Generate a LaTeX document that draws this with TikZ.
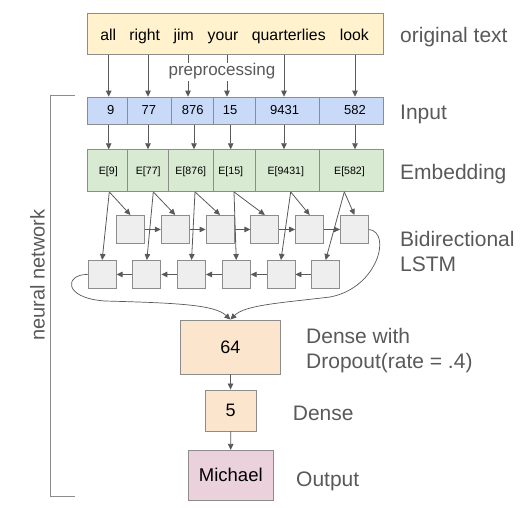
\documentclass[tikz,border=0pt]{standalone}
\usepackage{fontspec}
\setmainfont{Liberation Sans}
\usetikzlibrary{arrows.meta}
\definecolor{linec}{HTML}{595959}
\definecolor{borderc}{HTML}{8C8C8C}
\definecolor{labelc}{HTML}{595959}
\definecolor{topc}{HTML}{FFF2CC}
\definecolor{inpc}{HTML}{C9DAF8}
\definecolor{embc}{HTML}{D9EAD3}
\definecolor{lstmc}{HTML}{EEEEEE}
\definecolor{densec}{HTML}{FCE5CD}
\definecolor{outc}{HTML}{EAD1DC}
\tikzset{
  cellbox/.style={draw=borderc, line width=0.9pt, inner sep=0pt, anchor=north west},
  lstmbox/.style={draw=borderc, fill=lstmc, line width=0.9pt, inner sep=0pt, minimum width=28pt, minimum height=28pt, anchor=north west},
  arr/.style={draw=linec, line width=0.8pt, -{Triangle[length=6pt,width=5.5pt]}},
  sidelbl/.style={text=labelc, inner sep=0pt, anchor=base west, font=\fontsize{21}{25}\selectfont},
  wordlbl/.style={inner sep=0pt, anchor=base, font=\fontsize{15.8}{19}\selectfont},
  numlbl/.style={inner sep=0pt, anchor=base, font=\fontsize{13}{15}\selectfont},
  emblbl/.style={inner sep=0pt, anchor=base, font=\fontsize{10.6}{12}\selectfont},
}
\begin{document}
\begin{tikzpicture}[x=1pt,y=-1pt]
\useasboundingbox (0,0) rectangle (530,508);

% top text box
\node[cellbox, fill=topc, minimum width=296pt, minimum height=41.6pt] (top) at (86.7,12.7) {};
\node[wordlbl] (w1) at (108.2,40.5) {all};
\node[wordlbl] (w2) at (144.7,40.5) {right};
\node[wordlbl] (w3) at (183.7,40.5) {jim};
\node[wordlbl] (w4) at (223,40.5) {your};
\node[wordlbl] (w5) at (288.8,40.5) {quarterlies};
\node[wordlbl] (w6) at (354.3,40.5) {look};

% input cells
\node[cellbox, fill=inpc, minimum width=40pt, minimum height=27.3pt] (in1) at (86.7,96.7) {};
\node[cellbox, fill=inpc, minimum width=44pt, minimum height=27.3pt] (in2) at (126.7,96.7) {};
\node[cellbox, fill=inpc, minimum width=42pt, minimum height=27.3pt] (in3) at (170.7,96.7) {};
\node[cellbox, fill=inpc, minimum width=42.3pt, minimum height=27.3pt] (in4) at (212.7,96.7) {};
\node[cellbox, fill=inpc, minimum width=63.7pt, minimum height=27.3pt] (in5) at (255,96.7) {};
\node[cellbox, fill=inpc, minimum width=64pt, minimum height=27.3pt] (in6) at (318.7,96.7) {};
\node[numlbl] (n1) at (110.7,115) {9};
\node[numlbl] (n2) at (148.8,115) {77};
\node[numlbl] (n3) at (192.8,115) {876};
\node[numlbl] (n4) at (230,115) {15};
\node[numlbl] (n5) at (284.7,115) {9431};
\node[numlbl] (n6) at (355,115) {582};

% embedding cells
\node[cellbox, fill=embc, minimum width=40pt, minimum height=41.7pt] (e1) at (86.7,149.3) {};
\node[cellbox, fill=embc, minimum width=41.6pt, minimum height=41.7pt] (e2) at (126.7,149.3) {};
\node[cellbox, fill=embc, minimum width=44.4pt, minimum height=41.7pt] (e3) at (168.3,149.3) {};
\node[cellbox, fill=embc, minimum width=42.3pt, minimum height=41.7pt] (e4) at (212.7,149.3) {};
\node[cellbox, fill=embc, minimum width=63.7pt, minimum height=41.7pt] (e5) at (255,149.3) {};
\node[cellbox, fill=embc, minimum width=64pt, minimum height=41.7pt] (e6) at (318.7,149.3) {};
\node[emblbl] (el1) at (108.3,175) {E[9]};
\node[emblbl] (el2) at (148.3,175) {E[77]};
\node[emblbl] (el3) at (190.8,175) {E[876]};
\node[emblbl] (el4) at (230.8,175) {E[15]};
\node[emblbl] (el5) at (285.8,175) {E[9431]};
\node[emblbl] (el6) at (349.5,175) {E[582]};

% column coordinates
\coordinate (ca1) at (108.7,0); \coordinate (ca2) at (148,0); \coordinate (ca3) at (188,0);
\coordinate (ca4) at (227,0); \coordinate (ca5) at (284,0); \coordinate (ca6) at (355,0);
\coordinate (cb1) at (108.7,0); \coordinate (cb2) at (148,0); \coordinate (cb3) at (194,0);
\coordinate (cb4) at (230.7,0); \coordinate (cb5) at (284,0); \coordinate (cb6) at (355,0);
\coordinate (cs1) at (109.3,0); \coordinate (cs2) at (153.3,0); \coordinate (cs3) at (195,0);
\coordinate (cs4) at (234,0); \coordinate (cs5) at (290.7,0); \coordinate (cs6) at (344.3,0);

% arrows top -> input
\draw[arr] (top.south -| ca1) -- (in1.north -| ca1);
\draw[arr] (top.south -| ca2) -- (in2.north -| ca2);
\draw[arr] (top.south -| ca3) -- (in3.north -| ca3);
\draw[arr] (top.south -| ca4) -- (in4.north -| ca4);
\draw[arr] (top.south -| ca5) -- (in5.north -| ca5);
\draw[arr] (top.south -| ca6) -- (in6.north -| ca6);
\node[fill=white, text=labelc, inner sep=1pt, anchor=base, font=\fontsize{17}{20}\selectfont] (pre) at (222,76) {preprocessing};

% arrows input -> embedding
\draw[arr] (in1.south -| cb1) -- (e1.north -| cb1);
\draw[arr] (in2.south -| cb2) -- (e2.north -| cb2);
\draw[arr] (in3.south -| cb3) -- (e3.north -| cb3);
\draw[arr] (in4.south -| cb4) -- (e4.north -| cb4);
\draw[arr] (in5.south -| cb5) -- (e5.north -| cb5);
\draw[arr] (in6.south -| cb6) -- (e6.north -| cb6);

% LSTM boxes
\foreach \i in {1,...,6} {
  \node[lstmbox] (t\i) at ({116+44.8*(\i-1)},215) {};
  \node[lstmbox] (b\i) at ({87.7+44.7*(\i-1)},260) {};
}
\draw[arr] (t1) -- (t2); \draw[arr] (t2) -- (t3); \draw[arr] (t3) -- (t4);
\draw[arr] (t4) -- (t5); \draw[arr] (t5) -- (t6);
\draw[arr] (b6) -- (b5); \draw[arr] (b5) -- (b4); \draw[arr] (b4) -- (b3);
\draw[arr] (b3) -- (b2); \draw[arr] (b2) -- (b1);

% embedding -> LSTM
\draw[arr] (e1.south -| cs1) -- (t1.north); \draw[arr] (e1.south -| cs1) -- (b1.north);
\draw[arr] (e2.south -| cs2) -- (t2.north); \draw[arr] (e2.south -| cs2) -- (b2.north);
\draw[arr] (e3.south -| cs3) -- (t3.north); \draw[arr] (e3.south -| cs3) -- (b3.north);
\draw[arr] (e4.south -| cs4) -- (t4.north); \draw[arr] (e4.south -| cs4) -- (b4.north);
\draw[arr] (e5.south -| cs5) -- (t5.north); \draw[arr] (e5.south -| cs5) -- (b5.north);
\draw[arr] (e6.south -| cs6) -- (t6.north); \draw[arr] (e6.south -| cs6) -- (b6.north);

% dense / output
\node[draw=borderc, fill=densec, line width=0.9pt, minimum width=100.7pt, minimum height=54pt, inner sep=0pt, font=\fontsize{18}{21}\selectfont] (d64) at (230.4,347) {64};
\node[draw=borderc, fill=densec, line width=0.9pt, minimum width=50.7pt, minimum height=41pt, inner sep=0pt, font=\fontsize{18}{21}\selectfont] (d5) at (230.6,410.5) {5};
\node[draw=borderc, fill=outc, line width=0.9pt, minimum width=85pt, minimum height=49.7pt, inner sep=0pt, font=\fontsize{18.5}{21}\selectfont] (out) at (230.8,475.2) {Michael};

% curves into dense
\draw[arr, line width=0.7pt] (t6.east) .. controls (392,232) and (378,288) .. (330,297) .. controls (280,303) and (245,305) .. (d64.north);
\draw[arr, line width=0.7pt] (b1.west) .. controls (65,274) and (62,298) .. (105,301) .. controls (180,303) and (215,305) .. (d64.north);

\draw[arr] (d64) -- (d5);
\draw[arr] (d5) -- (out);

% bracket
\coordinate (brt) at (75,95.7);
\coordinate (brb) at (75,496.7);
\draw[draw=borderc, line width=1.1pt] (brt) -- (50.7,95.7) -- (50.7,496.7) -- (brb);
\node[text=labelc, inner sep=0pt, rotate=90, font=\fontsize{20}{24}\selectfont] (nn) at (37.5,275) {neural network};

% side labels
\node[sidelbl] (lorig) at (400,42.3) {original text};
\node[sidelbl] (linp) at (400,119.3) {Input};
\node[sidelbl] (lemb) at (400,179.3) {Embedding};
\node[sidelbl] (lbi1) at (400,246) {Bidirectional};
\node[sidelbl] (lbi2) at (400,271.7) {LSTM};
\node[sidelbl] (ldw1) at (306,343.3) {Dense with};
\node[sidelbl] (ldw2) at (306,368.3) {Dropout(rate = .4)};
\node[sidelbl] (lden) at (292.7,420) {Dense};
\node[sidelbl] (lout) at (296,486) {Output};
\end{tikzpicture}
\end{document}
